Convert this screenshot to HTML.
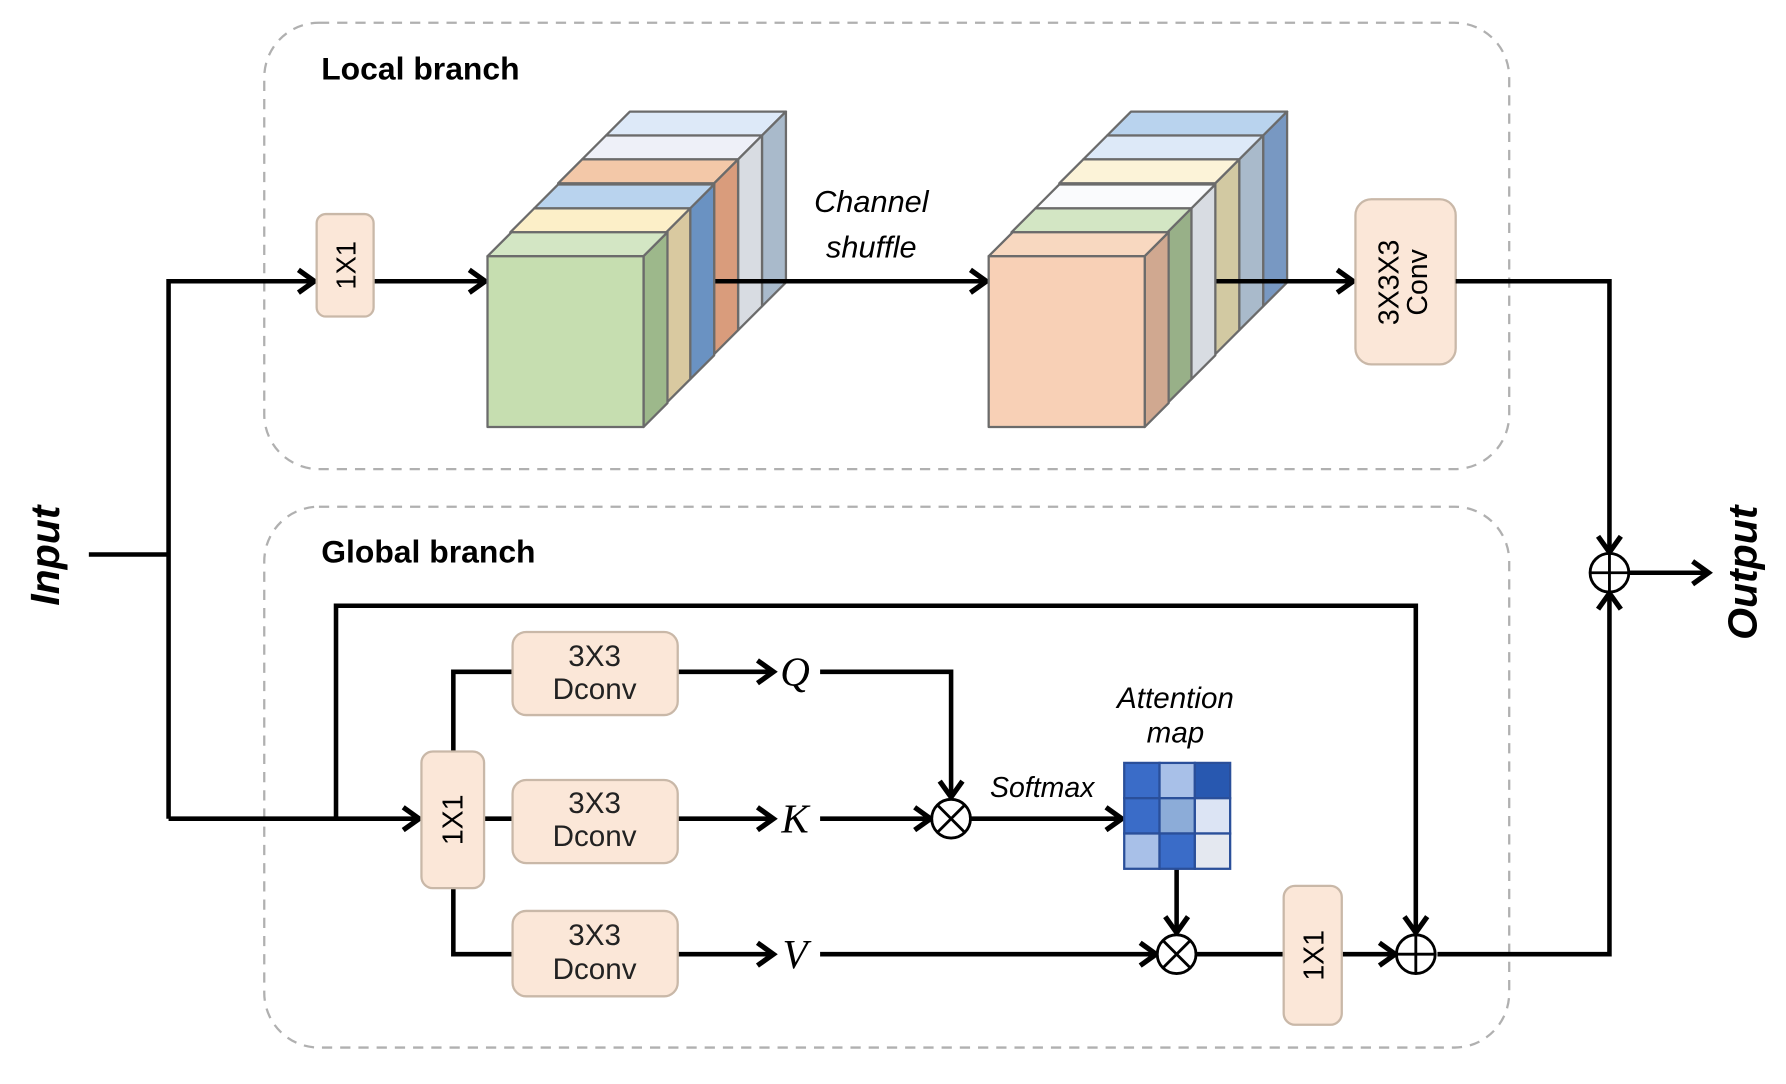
<!DOCTYPE html>
<html><head><meta charset="utf-8"><style>
html,body{margin:0;padding:0;background:#fff;}
svg{display:block;}
text{font-family:"Liberation Sans",sans-serif;}
</style></head><body>
<svg width="1786" height="1084" viewBox="0 0 1568 952" preserveAspectRatio="none" xmlns="http://www.w3.org/2000/svg">
<defs>
<marker id="ah" viewBox="-18 -13 22 26" refX="0" refY="0" markerWidth="22" markerHeight="26" markerUnits="userSpaceOnUse" orient="auto" overflow="visible">
<polyline points="-14,-10 0,0 -14,10" fill="none" stroke="#000" stroke-width="4.5" stroke-linejoin="miter"/>
</marker>
</defs>
<!-- dashed containers -->
<rect x="232" y="20" width="1093" height="392" rx="48" fill="none" stroke="#b0b0b0" stroke-width="2" stroke-dasharray="9,7"/>
<rect x="232" y="445" width="1093" height="475" rx="48" fill="none" stroke="#b0b0b0" stroke-width="2" stroke-dasharray="9,7"/>
<text x="282" y="70" font-size="28" font-weight="bold">Local branch</text>
<text x="282" y="494" font-size="28" font-weight="bold">Global branch</text>

<!-- Input -->
<text transform="translate(52,488) rotate(-90)" text-anchor="middle" font-size="36" font-weight="bold" font-style="italic">Input</text>
<g fill="none" stroke="#000" stroke-width="4">
<polyline points="78,487 148,487"/>
<polyline points="148,719 148,247 276,247" marker-end="url(#ah)"/>
<polyline points="328,247 426,247" marker-end="url(#ah)"/>
<polyline points="148,719 368,719" marker-end="url(#ah)"/>
<polyline points="295,719 295,532 1243,532 1243,819" marker-end="url(#ah)"/>
</g>

<!-- 1X1 local -->
<rect x="278" y="188" width="50" height="90" rx="8" fill="#fbe7d8" stroke="#c9b8a8" stroke-width="2"/>
<text transform="translate(312,233) rotate(-90)" text-anchor="middle" font-size="24">1X1</text>

<!-- Cube 1 -->
<g stroke="#6b6b6b" stroke-width="2" stroke-linejoin="round">
<g transform="translate(104,-106)"><polygon points="428,225 565,225 586,204 449,204" fill="#dde9f8"/><polygon points="565,225 586,204 586,354 565,375" fill="#a9bacb"/></g>
<g transform="translate(83,-85)"><polygon points="428,225 565,225 586,204 449,204" fill="#eef0f8"/><polygon points="565,225 586,204 586,354 565,375" fill="#d8dce2"/></g>
<g transform="translate(62,-64)"><polygon points="428,225 565,225 586,204 449,204" fill="#f3c8a8"/><polygon points="565,225 586,204 586,354 565,375" fill="#d99c7c"/></g>
<g transform="translate(41,-42)"><polygon points="428,225 565,225 586,204 449,204" fill="#b9d3ee"/><polygon points="565,225 586,204 586,354 565,375" fill="#6a92c2"/></g>
<g transform="translate(20,-21)"><polygon points="428,225 565,225 586,204 449,204" fill="#fcefc8"/><polygon points="565,225 586,204 586,354 565,375" fill="#d9c9a0"/></g>
<polygon points="428,225 565,225 586,204 449,204" fill="#d3e6c4"/><polygon points="565,225 586,204 586,354 565,375" fill="#9db88b"/>
<rect x="428" y="225" width="137" height="150" fill="#c6deb0"/>
</g>

<!-- channel shuffle -->
<line x1="628" y1="247" x2="866" y2="247" stroke="#000" stroke-width="4" marker-end="url(#ah)"/>
<text x="765" y="186" text-anchor="middle" font-size="27" font-style="italic">Channel</text>
<text x="765" y="226" text-anchor="middle" font-size="27" font-style="italic">shuffle</text>

<!-- Cube 2 -->
<g stroke="#6b6b6b" stroke-width="2" stroke-linejoin="round">
<g transform="translate(104,-106)"><polygon points="868,225 1005,225 1026,204 889,204" fill="#b9d3ee"/><polygon points="1005,225 1026,204 1026,354 1005,375" fill="#7898c2"/></g>
<g transform="translate(83,-85)"><polygon points="868,225 1005,225 1026,204 889,204" fill="#dde9f8"/><polygon points="1005,225 1026,204 1026,354 1005,375" fill="#a9bacb"/></g>
<g transform="translate(62,-64)"><polygon points="868,225 1005,225 1026,204 889,204" fill="#fcf3d8"/><polygon points="1005,225 1026,204 1026,354 1005,375" fill="#d2c9a2"/></g>
<g transform="translate(41,-42)"><polygon points="868,225 1005,225 1026,204 889,204" fill="#fafbfd"/><polygon points="1005,225 1026,204 1026,354 1005,375" fill="#d8dce2"/></g>
<g transform="translate(20,-21)"><polygon points="868,225 1005,225 1026,204 889,204" fill="#d3e6c4"/><polygon points="1005,225 1026,204 1026,354 1005,375" fill="#98b088"/></g>
<polygon points="868,225 1005,225 1026,204 889,204" fill="#f8d8c0"/><polygon points="1005,225 1026,204 1026,354 1005,375" fill="#d0a890"/>
<rect x="868" y="225" width="137" height="150" fill="#f8d0b6"/>
</g>

<line x1="1068" y1="247" x2="1188" y2="247" stroke="#000" stroke-width="4" marker-end="url(#ah)"/>
<rect x="1190" y="175" width="88" height="145" rx="14" fill="#fbe7d8" stroke="#c9b8a8" stroke-width="2"/>
<text transform="translate(1228,248) rotate(-90)" text-anchor="middle" font-size="25">3X3X3</text>
<text transform="translate(1253,248) rotate(-90)" text-anchor="middle" font-size="25">Conv</text>

<g fill="none" stroke="#000" stroke-width="4">
<polyline points="1278,247 1413,247 1413,485" marker-end="url(#ah)"/>
<polyline points="1262,838 1413,838 1413,521" marker-end="url(#ah)"/>
<polyline points="1430,503 1500,503" marker-end="url(#ah)"/>
</g>
<circle cx="1413" cy="503" r="17" fill="#fff" stroke="#000" stroke-width="2.5"/>
<line x1="1396" y1="503" x2="1430" y2="503" stroke="#000" stroke-width="2.5"/>
<line x1="1413" y1="486" x2="1413" y2="520" stroke="#000" stroke-width="2.5"/>
<text transform="translate(1542,503) rotate(-90)" text-anchor="middle" font-size="36" font-weight="bold" font-style="italic">Output</text>

<!-- Global: 1x1 and branches -->
<g fill="none" stroke="#000" stroke-width="4">
<polyline points="398,662 398,590 450,590"/>
<polyline points="425,719 450,719"/>
<polyline points="398,778 398,838 450,838"/>
<polyline points="595,590 679,590" marker-end="url(#ah)"/>
<polyline points="595,719 679,719" marker-end="url(#ah)"/>
<polyline points="595,838 679,838" marker-end="url(#ah)"/>
<polyline points="720,590 835,590 835,700" marker-end="url(#ah)"/>
<polyline points="720,719 817,719" marker-end="url(#ah)"/>
<polyline points="852,719 985,719" marker-end="url(#ah)"/>
<polyline points="1033,763 1033,819" marker-end="url(#ah)"/>
<polyline points="720,838 1015,838" marker-end="url(#ah)"/>
<polyline points="1050,838 1127,838"/>
<polyline points="1178,838 1225,838" marker-end="url(#ah)"/>
</g>
<rect x="370" y="660" width="55" height="120" rx="10" fill="#fbe7d8" stroke="#c9b8a8" stroke-width="2"/>
<text transform="translate(406,720) rotate(-90)" text-anchor="middle" font-size="25">1X1</text>
<g fill="#fbe7d8" stroke="#c9b8a8" stroke-width="2">
<rect x="450" y="555" width="145" height="73" rx="12"/>
<rect x="450" y="685" width="145" height="73" rx="12"/>
<rect x="450" y="800" width="145" height="75" rx="12"/>
</g>
<g font-size="26" text-anchor="middle" fill="#222">
<text x="522" y="585">3X3</text><text x="522" y="614">Dconv</text>
<text x="522" y="714">3X3</text><text x="522" y="743">Dconv</text>
<text x="522" y="830">3X3</text><text x="522" y="860">Dconv</text>
</g>
<g font-style="italic" font-size="36" text-anchor="middle">
<text x="698" y="602" style="font-family:'Liberation Serif',serif">Q</text>
<text x="698" y="731" style="font-family:'Liberation Serif',serif">K</text>
<text x="698" y="850" style="font-family:'Liberation Serif',serif">V</text>
</g>

<g fill="#fff" stroke="#000" stroke-width="2.5">
<circle cx="835" cy="719" r="17"/>
<circle cx="1033" cy="838" r="17"/>
<circle cx="1243" cy="838" r="17"/>
</g>
<g stroke="#000" stroke-width="2.5">
<line x1="823" y1="707" x2="847" y2="731"/><line x1="847" y1="707" x2="823" y2="731"/>
<line x1="1021" y1="826" x2="1045" y2="850"/><line x1="1045" y1="826" x2="1021" y2="850"/>
<line x1="1226" y1="838" x2="1260" y2="838"/><line x1="1243" y1="821" x2="1243" y2="855"/>
</g>

<text x="915" y="700" text-anchor="middle" font-size="25" font-style="italic">Softmax</text>
<text x="1032" y="622" text-anchor="middle" font-size="26" font-style="italic">Attention</text>
<text x="1032" y="652" text-anchor="middle" font-size="26" font-style="italic">map</text>

<g stroke="#2a4f9a" stroke-width="2">
<rect x="987" y="670" width="31" height="31" fill="#3a6cc8"/>
<rect x="1018" y="670" width="31" height="31" fill="#a8c0e8"/>
<rect x="1049" y="670" width="31" height="31" fill="#2858b0"/>
<rect x="987" y="701" width="31" height="31" fill="#3a6cc8"/>
<rect x="1018" y="701" width="31" height="31" fill="#8cacd8"/>
<rect x="1049" y="701" width="31" height="31" fill="#dce4f4"/>
<rect x="987" y="732" width="31" height="31" fill="#a8c0e8"/>
<rect x="1018" y="732" width="31" height="31" fill="#3a6cc8"/>
<rect x="1049" y="732" width="31" height="31" fill="#e4e8f0"/>
</g>

<rect x="1127" y="778" width="51" height="122" rx="10" fill="#fbe7d8" stroke="#c9b8a8" stroke-width="2"/>
<text transform="translate(1162,839) rotate(-90)" text-anchor="middle" font-size="25">1X1</text>
</svg>
</body></html>
